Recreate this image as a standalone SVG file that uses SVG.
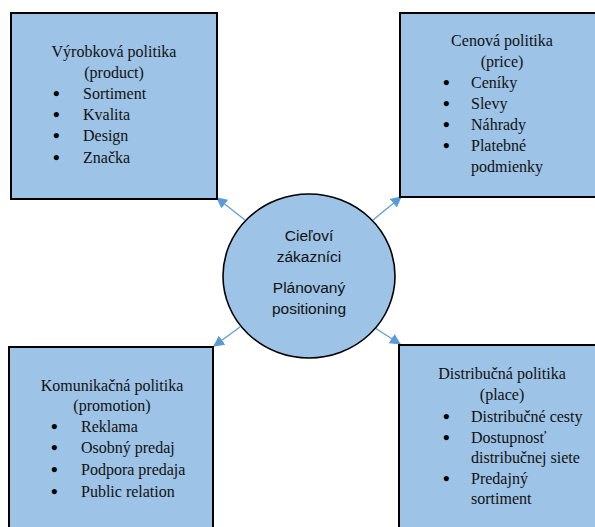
<svg xmlns="http://www.w3.org/2000/svg" width="595" height="527" viewBox="0 0 595 527">
<defs>
<style>
.box{fill:#9DC3E6;stroke:#000;stroke-width:2}
.circ{fill:#9DC3E6;stroke:#000;stroke-width:1.6}
.t{font-family:"Liberation Serif","Times New Roman",Times,serif;font-size:16px;fill:#111}
.c{text-anchor:middle}
.b{font-family:"Liberation Serif","Times New Roman",Times,serif;font-size:19px;font-weight:bold;fill:#000}
.s{font-family:"Liberation Sans",Arial,sans-serif;font-size:15.5px;fill:#111;text-anchor:middle}
.con{stroke:#5B9BD5;stroke-width:1.2;fill:none;marker-end:url(#ah)}
</style>
<marker id="ah" viewBox="0 0 10 10" refX="9" refY="5" markerWidth="11" markerHeight="11" markerUnits="userSpaceOnUse" orient="auto">
<path d="M0,0 L10,5 L0,10 z" fill="#5B9BD5"/>
</marker>
</defs>
<rect width="595" height="527" fill="#fff"/>
<g id="connectors">
<line class="con" x1="245" y1="220" x2="217" y2="198"/>
<line class="con" x1="373" y1="220" x2="401" y2="197"/>
<line class="con" x1="240" y1="327" x2="214" y2="346"/>
<line class="con" x1="375" y1="328" x2="400" y2="344"/>
</g>
<g id="product">
<rect class="box" x="11" y="13" width="206" height="186"/>
<text class="t c" x="114" y="57">Výrobková politika</text>
<text class="t c" x="114" y="78">(product)</text>
<g class="b">
<text x="53" y="100">•</text><text x="53" y="121">•</text><text x="53" y="142">•</text><text x="53" y="164">•</text>
</g>
<g class="t">
<text x="83" y="99">Sortiment</text>
<text x="83" y="120">Kvalita</text>
<text x="83" y="141">Design</text>
<text x="83" y="163">Značka</text>
</g>
</g>
<g id="price">
<rect class="box" x="400" y="13" width="200" height="184"/>
<text class="t c" x="502" y="46">Cenová politika</text>
<text class="t c" x="502" y="67">(price)</text>
<g class="b">
<text x="443" y="89">•</text><text x="443" y="110">•</text><text x="443" y="131">•</text><text x="443" y="152">•</text>
</g>
<g class="t">
<text x="471" y="88">Ceníky</text>
<text x="471" y="109">Slevy</text>
<text x="471" y="130">Náhrady</text>
<text x="471" y="151">Platebné</text>
<text x="471" y="172">podmienky</text>
</g>
</g>
<g id="center">
<ellipse class="circ" cx="309" cy="276" rx="86" ry="82"/>
<text class="s" x="309" y="241">Cieľoví</text>
<text class="s" x="309" y="262">zákazníci</text>
<text class="s" x="309" y="293">Plánovaný</text>
<text class="s" x="309" y="314">positioning</text>
</g>
<g id="promotion">
<rect class="box" x="9" y="347" width="204" height="190"/>
<text class="t c" x="112" y="391">Komunikačná politika</text>
<text class="t c" x="112" y="411">(promotion)</text>
<g class="b">
<text x="51" y="433">•</text><text x="51" y="454">•</text><text x="51" y="476">•</text><text x="51" y="498">•</text>
</g>
<g class="t">
<text x="81" y="432">Reklama</text>
<text x="81" y="453">Osobný predaj</text>
<text x="81" y="475">Podpora predaja</text>
<text x="81" y="497">Public relation</text>
</g>
</g>
<g id="place">
<rect class="box" x="399" y="345" width="200" height="190"/>
<text class="t c" x="502" y="379">Distribučná politika</text>
<text class="t c" x="502" y="400">(place)</text>
<g class="b">
<text x="443" y="423">•</text><text x="443" y="444">•</text><text x="443" y="485">•</text>
</g>
<g class="t">
<text x="471" y="422">Distribučné cesty</text>
<text x="471" y="443">Dostupnosť</text>
<text x="471" y="463">distribučnej siete</text>
<text x="471" y="484">Predajný</text>
<text x="471" y="504">sortiment</text>
</g>
</g>
</svg>
